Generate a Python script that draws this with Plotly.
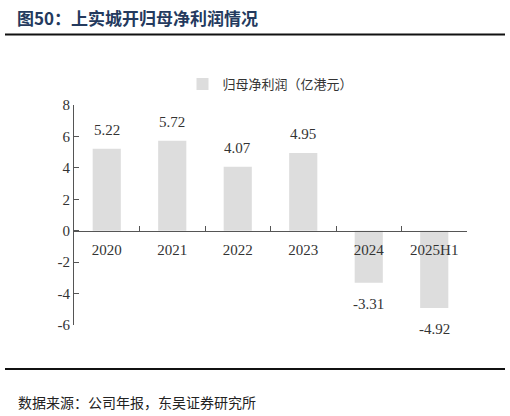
import plotly.graph_objects as go

categories = ["2020", "2021", "2022", "2023", "2024", "2025H1"]
net_profit = [5.22, 5.72, 4.07, 4.95, -3.31, -4.92]
y_ticks = [-6, -4, -2, 0, 2, 4, 6, 8]

W, H = 510, 416
L, R, T, B = 74, 43, 105, 91
SERIF = "Liberation Serif, Noto Sans CJK SC, serif"
CJK = "Noto Sans CJK SC, sans-serif"


def px(x):
    return (x - L) / (W - L - R)


def py(y):
    return (H - B - y) / (H - T - B)


fig = go.Figure()
fig.add_trace(go.Bar(
    x=categories,
    y=net_profit,
    name="归母净利润（亿港元）",
    marker=dict(color="#dddddd", line=dict(width=0)),
    width=0.43,
    cliponaxis=False,
))

# value labels sit a little off the bar ends, like the source chart
for i, v in enumerate(net_profit):
    fig.add_annotation(
        x=i, y=v, text=f"{v:.2f}", showarrow=False,
        yanchor="middle", yshift=19 if v >= 0 else -21,
        font=dict(family=SERIF, size=15, color="#333333"),
    )

ymin, ymax = -6, 8
fig.update_layout(
    width=W, height=H,
    margin=dict(l=L, r=R, t=T, b=B),
    plot_bgcolor="white",
    paper_bgcolor="white",
    showlegend=True,
    legend=dict(
        orientation="h", x=0.5, xanchor="center", y=py(84), yanchor="middle",
        font=dict(family=CJK, size=13, color="#333333"),
        itemwidth=30,
    ),
    xaxis=dict(
        type="category",
        range=[-0.5, len(categories) - 0.5],
        anchor="free",
        position=(0 - ymin) / (ymax - ymin),
        showline=True, linecolor="#555555", linewidth=1,
        ticks="inside", ticklen=5, tickcolor="#555555",
        tickson="boundaries",
        tickangle=0,
        ticklabelstandoff=5,
        tickfont=dict(family=SERIF, size=15, color="#333333"),
        showgrid=False,
        zeroline=False,
    ),
    yaxis=dict(
        range=[ymin, ymax],
        tickvals=y_ticks,
        ticktext=[str(v) for v in y_ticks],
        showline=True, linecolor="#555555", linewidth=1,
        ticks="inside", ticklen=5, tickcolor="#555555",
        tickfont=dict(family=SERIF, size=15, color="#333333"),
        showgrid=False,
        zeroline=False,
    ),
)

fig.add_annotation(
    text="<b>图50：上实城开归母净利润情况</b>",
    xref="paper", yref="paper", x=px(15), y=py(17),
    xanchor="left", yanchor="middle", showarrow=False,
    font=dict(family=CJK, size=17, color="#243a5e"),
)
fig.add_annotation(
    text="数据来源：公司年报，东吴证券研究所",
    xref="paper", yref="paper", x=px(16), y=py(402),
    xanchor="left", yanchor="middle", showarrow=False,
    font=dict(family=CJK, size=14, color="#222222"),
)
for yline in (34.5, 369):
    fig.add_shape(
        type="line", xref="paper", yref="paper",
        x0=px(5), x1=px(505), y0=py(yline), y1=py(yline),
        line=dict(color="#111111", width=2),
    )

# page body has a default margin; drop it so the figure sits at the corner
fig.write_html(
    "out.html",
    config={"displayModeBar": False},
    post_script="document.body.style.margin='0';",
)
